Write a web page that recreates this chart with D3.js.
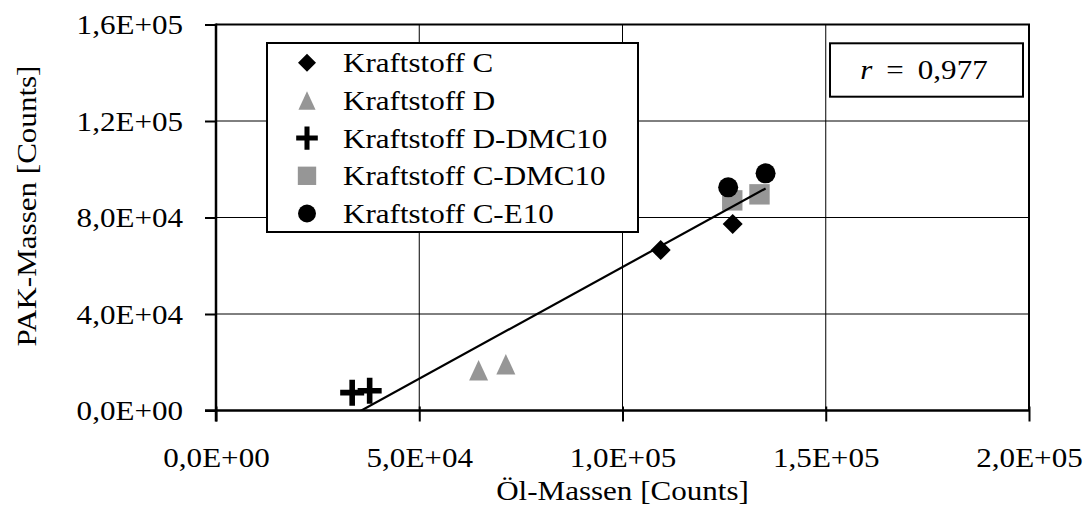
<!DOCTYPE html>
<html>
<head>
<meta charset="utf-8">
<script src="https://cdn.jsdelivr.net/npm/d3@7/dist/d3.min.js"></script>
<style>
  html, body { margin: 0; padding: 0; background: #fff; }
  svg { display: block; }
  text { font-family: "Liberation Serif", "DejaVu Serif", serif; font-size: 27px; fill: #000; }
</style>
</head>
<body>
<svg id="chart" width="1091" height="510"></svg>
<script>
// ---- data ----
const seriesNames = ["Kraftstoff C", "Kraftstoff D", "Kraftstoff D-DMC10", "Kraftstoff C-DMC10", "Kraftstoff C-E10"];
const oilC      = [109400, 127100];
const pakC      = [66500, 77300];
const oilD      = [64600, 71300];
const pakD      = [16700, 19200];
const oilDDMC10 = [33500, 37800];
const pakDDMC10 = [7400, 8200];
const oilCDMC10 = [127000, 133700];
const pakCDMC10 = [87100, 89600];
const oilCE10   = [126000, 135200];
const pakCE10   = [92500, 98300];
const xTicks = [0, 50000, 100000, 150000, 200000];
const yTicks = [0, 40000, 80000, 120000, 160000];
const xTickLabels = ["0,0E+00", "5,0E+04", "1,0E+05", "1,5E+05", "2,0E+05"];
const yTickLabels = ["0,0E+00", "4,0E+04", "8,0E+04", "1,2E+05", "1,6E+05"];
const xTitle = "Öl-Massen [Counts]";
const yTitle = "PAK-Massen [Counts]";
const rLabel = "0,977";

// ---- layout ----
const svg = d3.select("#chart");
const W = 1091, H = 510;
const m = { left: 216, right: 62, top: 24.5, bottom: 99.5 };
const x = d3.scaleLinear().domain([0, 200000]).range([m.left, W - m.right]);
const y = d3.scaleLinear().domain([0, 160000]).range([H - m.bottom, m.top]);

const series = [
  { name: seriesNames[0], xs: oilC, ys: pakC, shape: "diamond", color: "#000" },
  { name: seriesNames[1], xs: oilD, ys: pakD, shape: "triangle", color: "#969696" },
  { name: seriesNames[2], xs: oilDDMC10, ys: pakDDMC10, shape: "cross", color: "#000" },
  { name: seriesNames[3], xs: oilCDMC10, ys: pakCDMC10, shape: "square", color: "#969696" },
  { name: seriesNames[4], xs: oilCE10, ys: pakCE10, shape: "circle", color: "#000" }
];

function drawMarker(g, shape, cx, cy, color, s) {
  const k = s / 20;
  if (shape === "diamond") {
    const h = 10 * k;
    g.append("path").attr("d", `M${cx},${cy - h}L${cx + h},${cy}L${cx},${cy + h}L${cx - h},${cy}Z`).attr("fill", color);
  } else if (shape === "triangle") {
    const hw = 9.5 * k, hh = 10.3 * k;
    g.append("path").attr("d", `M${cx},${cy - hh}L${cx + hw},${cy + hh}L${cx - hw},${cy + hh}Z`).attr("fill", color);
  } else if (shape === "square") {
    const h = 10.2 * k;
    g.append("rect").attr("x", cx - h).attr("y", cy - h).attr("width", 2 * h).attr("height", 2 * h).attr("fill", color);
  } else if (shape === "circle") {
    g.append("circle").attr("cx", cx).attr("cy", cy).attr("r", 10 * k).attr("fill", color);
  } else if (shape === "cross") {
    const hw = 12 * k, hh = 13 * k;
    g.append("path").attr("d", `M${cx - hw},${cy}H${cx + hw}M${cx},${cy - hh}V${cy + hh}`)
      .attr("stroke", color).attr("stroke-width", 5.6 * k).attr("fill", "none");
  }
}

// gridlines
const grid = svg.append("g");
grid.selectAll("line.gx").data(xTicks.slice(1)).join("line")
  .attr("x1", d => x(d)).attr("x2", d => x(d)).attr("y1", y(0)).attr("y2", y(160000))
  .attr("stroke", "#000").attr("stroke-width", 1);
grid.selectAll("line.gy").data(yTicks.slice(1)).join("line")
  .attr("x1", x(0)).attr("x2", x(200000)).attr("y1", d => y(d)).attr("y2", d => y(d))
  .attr("stroke", "#000").attr("stroke-width", 1);

// plot border (top and right)
svg.append("path")
  .attr("d", `M${x(0)},${y(160000)}H${x(200000)}V${y(0)}`)
  .attr("fill", "none").attr("stroke", "#000").attr("stroke-width", 2);

// clip
svg.append("clipPath").attr("id", "plotclip").append("rect")
  .attr("x", x(0)).attr("y", y(160000)).attr("width", x(200000) - x(0)).attr("height", y(0) - y(160000));

// markers
const marks = svg.append("g");
series.forEach(s => {
  s.xs.forEach((xv, i) => drawMarker(marks, s.shape, x(xv), y(s.ys[i]), s.color, 20));
});

// regression line over all points
const allX = [], allY = [];
series.forEach(s => { s.xs.forEach((v, i) => { allX.push(v); allY.push(s.ys[i]); }); });
const mx = d3.mean(allX), my = d3.mean(allY);
let sxy = 0, sxx = 0;
allX.forEach((v, i) => { sxy += (v - mx) * (allY[i] - my); sxx += (v - mx) * (v - mx); });
const slope = sxy / sxx, icpt = my - slope * mx;
const x0 = d3.min(allX), x1 = d3.max(allX);
svg.append("line").attr("clip-path", "url(#plotclip)")
  .attr("x1", x(x0)).attr("y1", y(slope * x0 + icpt))
  .attr("x2", x(x1)).attr("y2", y(slope * x1 + icpt))
  .attr("stroke", "#000").attr("stroke-width", 2.2);

// axes
const xAxis = d3.axisBottom(x).tickValues(xTicks).tickFormat((d, i) => xTickLabels[i]).tickSize(0).tickPadding(0);
const yAxis = d3.axisLeft(y).tickValues(yTicks).tickFormat((d, i) => yTickLabels[i]).tickSize(0).tickPadding(0);

const gx = svg.append("g").attr("transform", `translate(0,${y(0)})`).call(xAxis);
gx.select(".domain").remove();
gx.selectAll(".tick text").attr("y", 56.5).attr("dy", null).attr("font-family", null).attr("font-size", null);
gx.selectAll(".tick").append("line").attr("y1", -4).attr("y2", 11).attr("stroke", "#000").attr("stroke-width", 2);
svg.append("line").attr("x1", x(0) - 11).attr("x2", x(200000)).attr("y1", y(0)).attr("y2", y(0))
  .attr("stroke", "#000").attr("stroke-width", 2.5);

const gy = svg.append("g").attr("transform", `translate(${x(0)},0)`).call(yAxis);
gy.select(".domain").remove();
gy.selectAll(".tick text").attr("x", -33).attr("dy", "0.34em").attr("font-family", null).attr("font-size", null);
gy.selectAll(".tick").append("line").attr("x1", -11).attr("x2", 0).attr("stroke", "#000").attr("stroke-width", 2);
svg.append("line").attr("x1", x(0)).attr("x2", x(0)).attr("y1", y(160000) - 1).attr("y2", y(0) + 11)
  .attr("stroke", "#000").attr("stroke-width", 2.5);

// axis titles
svg.append("text").attr("x", (x(0) + x(200000)) / 2).attr("y", 500).attr("text-anchor", "middle").text(xTitle);
svg.append("text").attr("transform", "translate(36,206) rotate(-90)").attr("text-anchor", "middle").text(yTitle);

// legend
const lg = svg.append("g");
lg.append("rect").attr("x", 267).attr("y", 43).attr("width", 371).attr("height", 189)
  .attr("fill", "#fff").attr("stroke", "#000").attr("stroke-width", 2);
series.forEach((s, i) => {
  const cy = 62.7 + i * 37.7;
  drawMarker(lg, s.shape, 307, cy, s.color, 18);
  lg.append("text").attr("x", 343).attr("y", cy + 9.5).text(s.name);
});

// r box
const rb = svg.append("g");
rb.append("rect").attr("x", 830).attr("y", 43.3).attr("width", 193).attr("height", 53.4)
  .attr("fill", "#fff").attr("stroke", "#000").attr("stroke-width", 2);
const rt = rb.append("text").attr("x", 924).attr("y", 79).attr("text-anchor", "middle");
rt.append("tspan").attr("font-style", "italic").text("r");
rt.append("tspan").text(" \u2009= \u2009" + rLabel);

// widen the serif glyphs slightly to approximate the wider Computer Modern face
svg.selectAll("text").each(function () {
  const L = this.getComputedTextLength();
  this.setAttribute("textLength", (L * 1.15).toFixed(1));
  this.setAttribute("lengthAdjust", "spacingAndGlyphs");
});
</script>
</body>
</html>
